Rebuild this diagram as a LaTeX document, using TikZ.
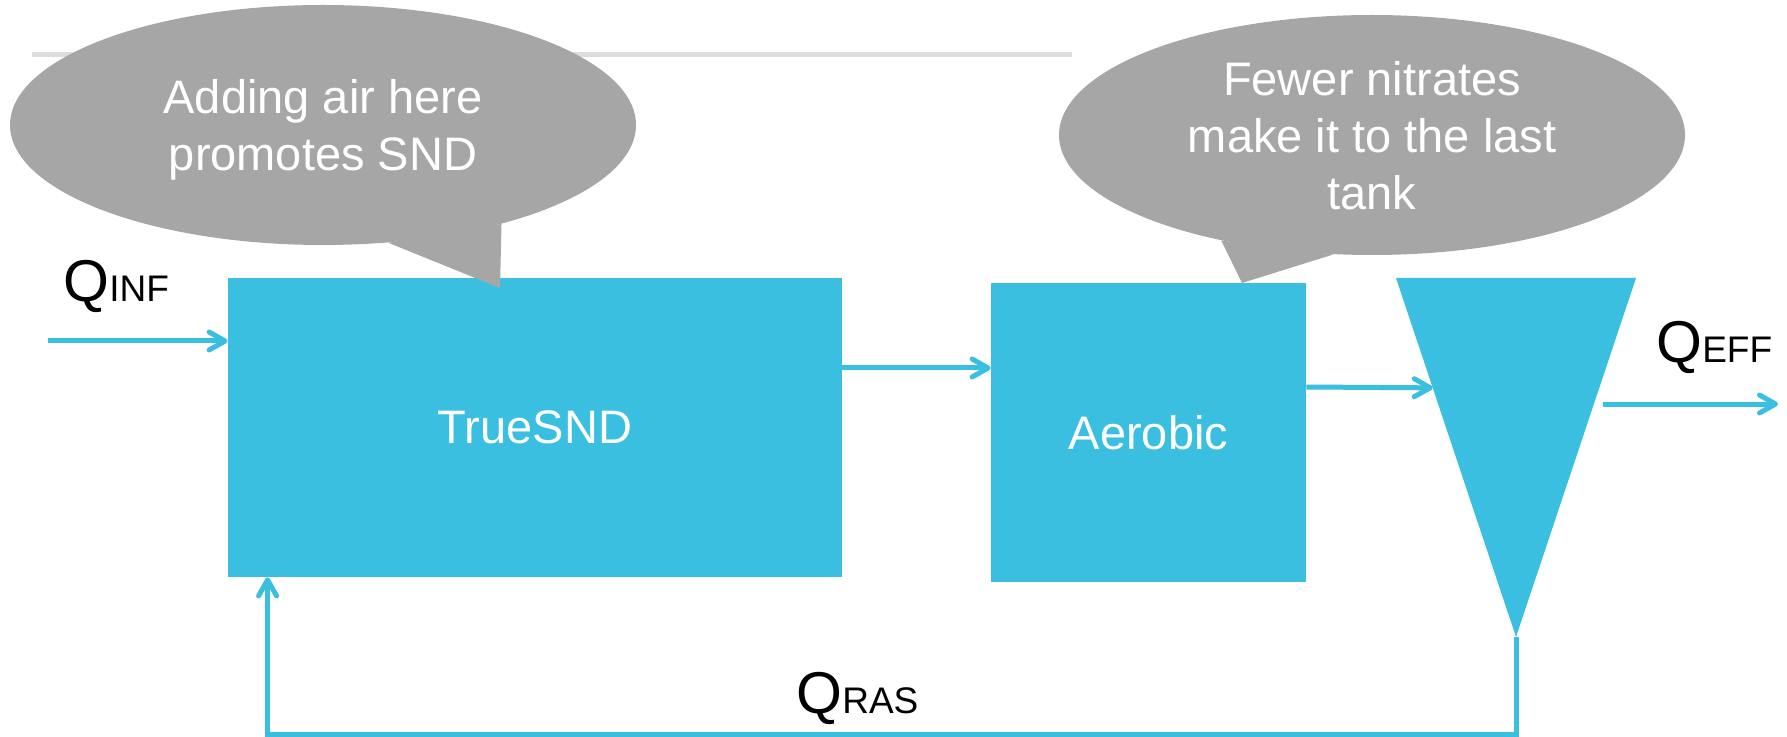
\documentclass[tikz,border=0pt]{standalone}
\usepackage{fontspec}
\setmainfont{Liberation Sans}
\usetikzlibrary{arrows.meta}
\usetikzlibrary{calc}
\usetikzlibrary{shapes.geometric}
\definecolor{tankblue}{RGB}{59,191,224}
\definecolor{calloutgray}{RGB}{166,166,166}
\definecolor{rulegray}{RGB}{221,221,221}
\newcommand{\bodyfont}{\fontsize{23.5}{28.5}\selectfont}
\newcommand{\flowQ}[1]{{\fontsize{29.5}{31}\selectfont Q}{\fontsize{18.5}{20}\selectfont #1}}

\begin{document}
\begin{tikzpicture}[ x=0.5pt, y=-0.5pt,
      tank/.style={ fill=tankblue, inner sep=0pt, text=white, font=\bodyfont},
      bubble/.style={ ellipse, fill=calloutgray, inner sep=0pt, text=white, align=center,
        font=\bodyfont, text depth=0pt, minimum width=313pt, minimum height=120pt},
      flow/.style={ draw=tankblue, line width=2.5pt, -{Straight Barb[length=8pt,width=9pt,round]}},
      qtext/.style={ inner sep=0pt, anchor=base west}
      ]
      \useasboundingbox (0,0) rectangle (1787,737);
      \draw[rulegray, line width=2.5pt] (32,55) -- (1072,55);

      % tanks
      \node[tank, minimum width=307pt, minimum height=149.5pt] (TrueSND) at (535,427.5) {TrueSND};
      \node[tank, minimum width=157.5pt, minimum height=149.5pt] (Aerobic) at (1148.5,432.5) {Aerobic};

      % clarifier
      \coordinate (ClarTL) at (1396,278);
      \coordinate (ClarTR) at (1636,278);
      \coordinate (ClarB)  at (1516,637);
      \fill[tankblue] (ClarTL) -- (ClarTR) -- (ClarB) -- cycle;
      \coordinate (ClarIn) at ($(ClarTL)!0.306!(ClarB)$);

      % callouts
      \node[bubble] (CalloutA) at (323,125) {Adding air here\\promotes SND};
      \coordinate (TipA) at (500,288);
      \fill[calloutgray] (CalloutA.-61.5) -- (TipA) -- (CalloutA.-29.7) -- cycle;

      \node[bubble] (CalloutB) at (1372,135) {Fewer nitrates\\make it to the last\\tank};
      \coordinate (TipB) at (1242,283);
      \fill[calloutgray] (CalloutB.-145.8) -- (TipB) -- (CalloutB.-108.7) -- cycle;

      % flows
      \coordinate (InfStart) at (48,341);
      \draw[flow] (InfStart) -- (InfStart -| TrueSND.west);
      \node[qtext] (QInf) at (63,302) {\flowQ{INF}};

      \coordinate (SndOut) at ([yshift=29.75pt]TrueSND.east);
      \draw[flow] (SndOut) -- (SndOut -| Aerobic.west);

      \coordinate (AerOut) at ([yshift=22.75pt]Aerobic.east);
      \draw[flow] (AerOut) -- (ClarIn);

      \coordinate (EffStart) at (1603,404);
      \coordinate (EffEnd) at (1778,404);
      \draw[flow] (EffStart) -- (EffEnd);
      \node[qtext] (QEff) at (1656,363) {\flowQ{EFF}};

      % return sludge
      \coordinate (RasTurn) at (1516,734);
      \coordinate (RasIn) at ($(TrueSND.south west)+(20pt,0)$);
      \draw[flow] (ClarB) -- (RasTurn) -| (RasIn);
      \node[qtext] (QRas) at (796,713) {\flowQ{RAS}};
    \end{tikzpicture}
\end{document}
